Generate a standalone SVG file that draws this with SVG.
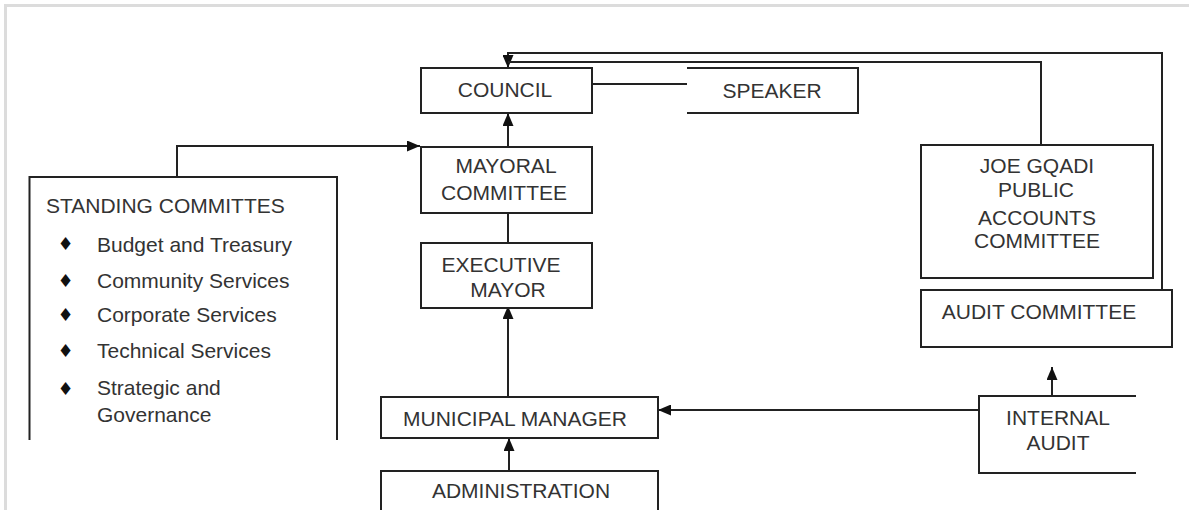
<svg xmlns="http://www.w3.org/2000/svg" width="1189" height="510" viewBox="0 0 1189 510">
<style>
.frame{fill:none;stroke:#dcdcdc;stroke-width:3}
.box{fill:#fff;stroke:#222;stroke-width:2}
.open{fill:none;stroke:#222;stroke-width:2}
.conn{fill:none;stroke:#222;stroke-width:2}
.t{font-family:"Liberation Sans",Arial,sans-serif;font-size:21px;fill:#333;text-anchor:middle}
.l{font-family:"Liberation Sans",Arial,sans-serif;font-size:21px;fill:#333}
.b{font-family:"DejaVu Sans",sans-serif;font-size:18px;fill:#111}
</style>
<defs>
<marker id="arr" markerUnits="userSpaceOnUse" markerWidth="13" markerHeight="11" refX="13" refY="5.5" orient="auto">
<path d="M0,0 L13,5.5 L0,11 z" fill="#111"/>
</marker>
</defs>
<rect width="1189" height="510" fill="#fff"/>
<path class="frame" d="M5.5,510 V5.5 H1189"/>

<g id="connectors">
<path class="conn" d="M1162,307 V53 H508 V68" marker-end="url(#arr)"/>
<path class="conn" d="M1041,145 V62 H508"/>
<path class="conn" d="M592,84 H687"/>
<path class="conn" d="M508,147 V113" marker-end="url(#arr)"/>
<path class="conn" d="M508,213 V243"/>
<path class="conn" d="M508,397 V306" marker-end="url(#arr)"/>
<path class="conn" d="M509,471 V438" marker-end="url(#arr)"/>
<path class="conn" d="M979,410 H658" marker-end="url(#arr)"/>
<path class="conn" d="M1052,396 V367" marker-end="url(#arr)"/>
<path class="conn" d="M177,177 V146 H420" marker-end="url(#arr)"/>
</g>

<g id="council">
<rect class="box" x="421" y="68" width="171" height="45"/>
<text class="t" x="505" y="97">COUNCIL</text>
</g>
<g id="speaker">
<path class="open" d="M687,68 H858 V113 H687"/>
<text class="t" x="772" y="98">SPEAKER</text>
</g>
<g id="mayoral-committee">
<rect class="box" x="421" y="147" width="171" height="66"/>
<text class="t" x="506" y="173">MAYORAL</text>
<text class="t" x="504" y="200">COMMITTEE</text>
</g>
<g id="executive-mayor">
<rect class="box" x="421" y="243" width="171" height="65"/>
<text class="t" x="501" y="272">EXECUTIVE</text>
<text class="t" x="508" y="297">MAYOR</text>
</g>
<g id="municipal-manager">
<rect class="box" x="381" y="397" width="277" height="41"/>
<text class="t" x="515" y="426">MUNICIPAL MANAGER</text>
</g>
<g id="administration">
<path class="open" d="M381,510 V471 H658 V510"/>
<text class="t" x="521" y="498">ADMINISTRATION</text>
</g>
<g id="standing-committees">
<path class="open" d="M29.5,440 V177 H337 V440"/>
<text class="l" x="46" y="213">STANDING COMMITTES</text>
<text class="b" x="57.5" y="249.5">♦</text>
<text class="l" x="97" y="252">Budget and Treasury</text>
<text class="b" x="57.5" y="286.5">♦</text>
<text class="l" x="97" y="288">Community Services</text>
<text class="b" x="57.5" y="320.5">♦</text>
<text class="l" x="97" y="322">Corporate Services</text>
<text class="b" x="57.5" y="356.5">♦</text>
<text class="l" x="97" y="358">Technical Services</text>
<text class="b" x="57.5" y="394.5">♦</text>
<text class="l" x="97" y="395">Strategic and</text>
<text class="l" x="97" y="422">Governance</text>
</g>
<g id="public-accounts">
<rect class="box" x="921" y="145" width="232" height="133"/>
<text class="t" x="1037" y="173">JOE GQADI</text>
<text class="t" x="1036" y="197">PUBLIC</text>
<text class="t" x="1037" y="225">ACCOUNTS</text>
<text class="t" x="1037" y="248">COMMITTEE</text>
</g>
<g id="audit-committee">
<rect class="box" x="921" y="290" width="251" height="57"/>
<text class="t" x="1039" y="319">AUDIT COMMITTEE</text>
</g>
<g id="internal-audit">
<path class="open" d="M1136,396 H979 V473 H1136"/>
<text class="t" x="1058" y="425">INTERNAL</text>
<text class="t" x="1058" y="450">AUDIT</text>
</g>
</svg>
